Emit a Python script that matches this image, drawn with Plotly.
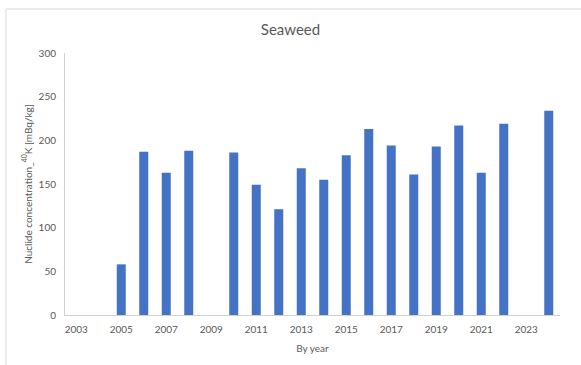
import plotly.graph_objects as go

years = [str(y) for y in range(2003, 2025)]
k40 = [None, None, 58, 187, 163, 188, None, 186, 149, 121, 168,
       155, 183, 213, 194, 161, 193, 217, 163, 219, None, 234]
tick_years = [str(y) for y in range(2003, 2025, 2)]

W, H = 581, 365
L, R, T, B = 65, 21, 53, 50
pw, ph = W - L - R, H - T - B


def px_x(px):
    return (px - L) / pw


def px_y(py):
    return (H - B - py) / ph


grey = "#595959"
font = "Lato, 'Open Sans', sans-serif"

fig = go.Figure(go.Bar(x=years, y=k40, marker_color="#4472C4",
                       marker_line_width=0))

fig.update_layout(
    width=W, height=H,
    margin=dict(l=L, r=R, t=T, b=B),
    paper_bgcolor="white", plot_bgcolor="white",
    bargap=0.6,
    showlegend=False,
    font=dict(family=font, color=grey, size=10),
    title=dict(text="Seaweed", x=0.5, xanchor="center", y=1 - 30 / H,
               yanchor="middle", font=dict(size=15, color=grey, family=font)),
    xaxis=dict(type="category", categoryorder="array", categoryarray=years,
               tickmode="array", tickvals=tick_years, ticktext=tick_years,
               showline=True, linecolor="#d0d0d0", linewidth=1,
               showgrid=False, ticks="", ticklabelstandoff=5,
               tickfont=dict(size=10, color=grey),
               title=dict(text="By year", font=dict(size=10, color=grey),
                          standoff=10)),
    yaxis=dict(range=[0, 300], dtick=50, showline=True, linecolor="#d0d0d0",
               linewidth=1, showgrid=False, ticks="", zeroline=False,
               tickfont=dict(size=10, color=grey), ticklabelstandoff=6,
               title=dict(text="Nuclide concentration_<sup>40</sup>K [mBq/kg]",
                          font=dict(size=10, color=grey), standoff=4)),
    shapes=[dict(type="rect", xref="paper", yref="paper",
                 x0=px_x(6), x1=px_x(W + 10), y0=px_y(H + 10), y1=px_y(9),
                 line=dict(color="#d9d9d9", width=1), layer="below")],
)

fig.write_html("out.html")
